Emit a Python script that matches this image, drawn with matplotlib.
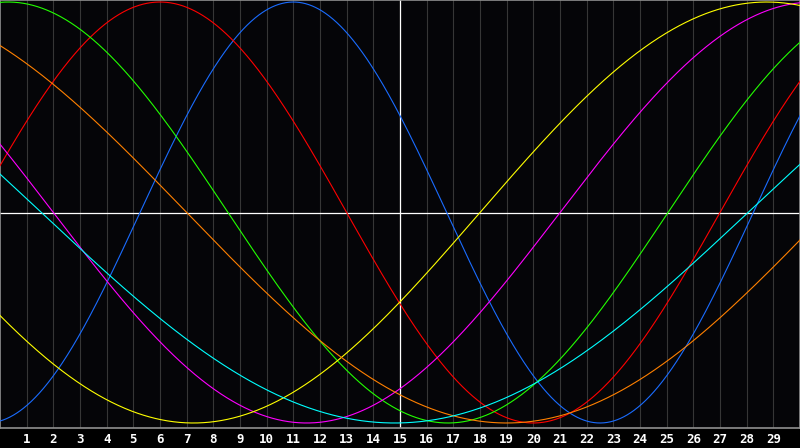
import numpy as np
import matplotlib
matplotlib.use("Agg")
import matplotlib.pyplot as plt

# biorhythm cycles: period in days and the day (on the chart) where each peaks
names = ["physical", "emotional", "intellectual", "intuitive", "aesthetic", "awareness", "spiritual"]
periods = [23, 28, 33, 38, 43, 48, 53]
peak_day = [11.0, 6.0, 0.3, 30.5, 28.75, -5.0, -11.7]
colors = ["#1a6cff", "#ff0000", "#22ff00", "#ff00ff", "#ffff00", "#ff8000", "#00ffff"]

day_labels = list(range(1, 30))
n_days = 30

fig = plt.figure(figsize=(8, 4.48), dpi=100)
fig.patch.set_facecolor("#000000")
ax = fig.add_axes([0, 20 / 448, 1, 428 / 448])
ax.set_facecolor("#050508")

for k in day_labels:
    ax.axvline(k, color="#363636", lw=0.8, zorder=1)

x = np.linspace(0, n_days, 1200)
for p, pk, c in zip(periods, peak_day, colors):
    y = np.cos(2 * np.pi * (x - pk) / p)
    ax.plot(x, y, color=c, lw=0.8, zorder=3)

ax.axvline(15, color="white", lw=0.9, zorder=2)
ax.axhline(0, color="white", lw=0.9, zorder=2)

ax.set_xlim(0, n_days)
ax.set_ylim(-1.0238, 1.0096)
ax.set_xticks([])
ax.set_yticks([])
for s in ax.spines.values():
    s.set_color("#909090")
    s.set_linewidth(1.2)

for k in day_labels:
    ax.text(k, -0.012, str(k), transform=ax.get_xaxis_transform(),
            ha="center", va="top", color="white", fontsize=9,
            fontweight="bold", family="DejaVu Sans Mono")

fig.savefig("out.png", dpi=100, facecolor=fig.get_facecolor())
